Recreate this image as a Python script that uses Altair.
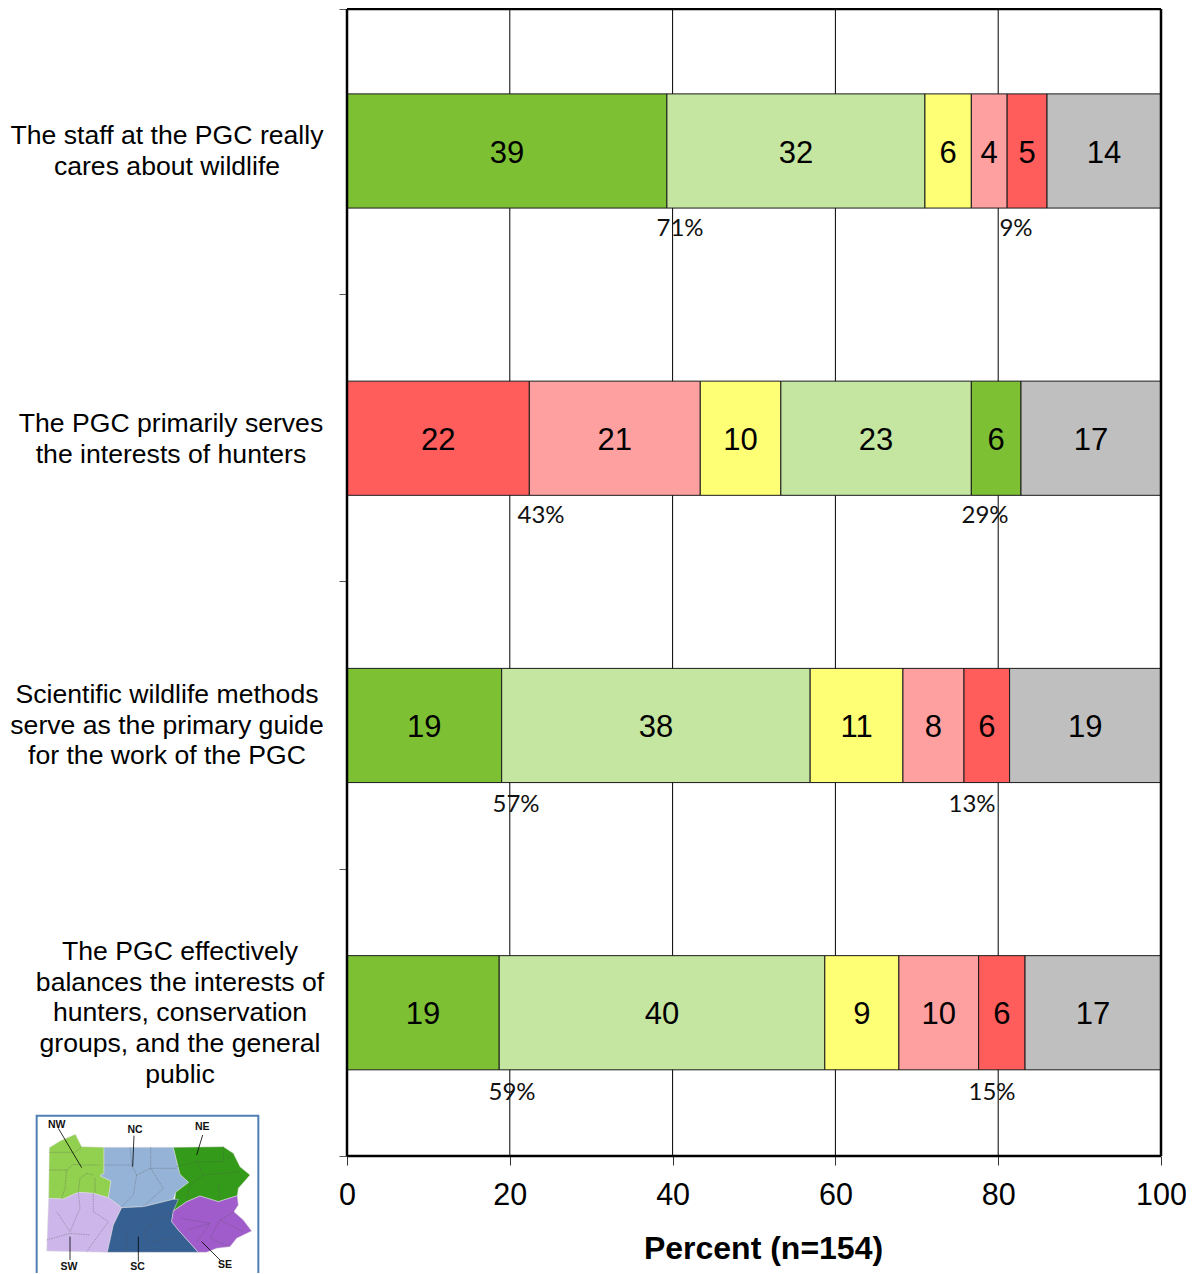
import altair as alt
import pandas as pd

# ---- chart values -------------------------------------------------------
questions = [
    "The staff at the PGC really\ncares about wildlife",
    "The PGC primarily serves\nthe interests of hunters",
    "Scientific wildlife methods\nserve as the primary guide\nfor the work of the PGC",
    "The PGC effectively\nbalances the interests of\nhunters, conservation\ngroups, and the general\npublic",
]
responses = ["dark green", "light green", "yellow", "pink", "red", "grey"]
colours = ["#7DC034", "#C5E6A1", "#FFFF75", "#FFA0A0", "#FF5C5C", "#BFBFBF"]

row_order = [
    ["dark green", "light green", "yellow", "pink", "red", "grey"],
    ["red", "pink", "yellow", "light green", "dark green", "grey"],
    ["dark green", "light green", "yellow", "pink", "red", "grey"],
    ["dark green", "light green", "yellow", "pink", "red", "grey"],
]
row_values = [
    [39.3, 31.7, 5.7, 4.4, 4.9, 14.0],
    [22.4, 21.0, 9.9, 23.4, 6.1, 17.2],
    [19.0, 37.9, 11.4, 7.5, 5.6, 18.6],
    [18.7, 40.0, 9.1, 9.8, 5.7, 16.7],
]
left_notes = ["71%", "43%", "57%", "59%"]
right_notes = ["9%", "29%", "13%", "15%"]

x_ticks = [0, 20, 40, 60, 80, 100]
y_ticks = [0.007, 1, 2, 3, 4]

# inset map, in the map's own units
map_regions = {
    "NW": [(58,128),(90,108),(136,88),(155,125),(222,127),(222,205),(210,212),(243,228),(235,278),(190,265),(145,262),(100,282),(56,280)],
    "NC": [(222,127),(430,127),(450,208),(476,232),(437,262),(430,283),(340,305),(275,308),(235,278),(243,228),(210,212),(222,205)],
    "NE": [(430,127),(580,125),(610,145),(630,185),(660,210),(625,250),(622,272),(565,290),(510,273),(470,290),(430,318),(437,262),(476,232),(450,208)],
    "SW": [(56,280),(100,282),(145,262),(190,265),(235,278),(275,308),(250,360),(232,442),(50,438)],
    "SC": [(275,308),(340,305),(430,283),(445,283),(430,318),(425,350),(445,375),(505,442),(232,442),(250,360)],
    "SE": [(510,273),(565,290),(622,272),(625,300),(612,320),(640,345),(665,378),(620,400),(600,425),(560,430),(530,442),(505,442),(445,375),(425,350),(430,318),(470,290)],
}
region_colours = {"NW": "#92D050", "NC": "#95B3D7", "NE": "#349A1A", "SW": "#CDB6EA", "SC": "#366092", "SE": "#A05CCB"}
county_lines = [
    [(58,142),(135,142),(155,125)], [(58,195),(110,195),(130,178),(165,180),(210,180)],
    [(110,195),(105,250),(95,280)], [(145,262),(150,220),(170,205),(190,210)], [(195,220),(195,265)],
    [(300,127),(305,180),(222,180)], [(362,127),(362,190),(440,190)], [(305,180),(320,210),(362,190)],
    [(320,210),(310,270),(275,305)], [(362,190),(400,250),(340,305)], [(500,170),(520,210),(480,240),(470,285)],
    [(440,185),(500,170),(580,170),(610,145)], [(520,210),(630,200)], [(565,240),(570,285)], [(580,125),(580,170)],
    [(145,262),(150,310),(120,380),(80,320)], [(190,265),(190,320),(235,350),(170,440)], [(50,405),(120,385),(180,390)],
    [(340,330),(290,380),(290,440)], [(400,310),(340,385),(370,440)], [(430,320),(350,370)], [(370,410),(440,395)],
    [(455,340),(540,355),(470,375)], [(540,355),(500,410)], [(570,345),(540,400),(600,425)], [(612,320),(570,345),(640,380)],
]
map_leaders = [
    [(85,70),(155,188)], [(312,92),(308,185)], [(518,90),(500,150)],
    [(120,465),(120,395)], [(325,470),(325,395)], [(570,465),(515,410)],
]
map_frame = [(20,504),(20,32),(685,32),(685,504)]
map_labels = ["NW", "NC", "NE", "SW", "SC", "SE"]
map_label_x = [80, 315, 517, 117, 323, 585]
map_label_y = [60, 74, 65, 485, 485, 480]

# ---- tables -------------------------------------------------------------
rows = []
for i, (order, vals) in enumerate(zip(row_order, row_values)):
    start = 0.0
    for resp, v in zip(order, vals):
        rows.append({"row": i, "top": i + 0.3025, "bottom": i + 0.7, "mid": i + 0.5,
                     "response": resp, "start": start, "end": start + v,
                     "centre": start + v / 2, "value": v})
        start += v
bars = pd.DataFrame(rows)

X = alt.Scale(domain=[0, 100], nice=False)
Y = alt.Scale(domain=[0.007, 4], reverse=True, nice=False)

# ---- grid, axes ---------------------------------------------------------
base = (
    alt.Chart(pd.DataFrame({"x": x_ticks[1:-1]}))
    .mark_rule(color="#000000", strokeWidth=1)
    .encode(
        x=alt.X("x:Q", scale=X, axis=alt.Axis(
            values=x_ticks, title="Percent (n=154)", grid=False, domain=False,
            tickColor="#333333", tickSize=9, tickWidth=1,
            labelFont="Liberation Sans", labelFontSize=30.5, labelColor="#000000", labelPadding=15,
            labelOverlap=False, labelFlush=False,
            titleFont="Liberation Sans", titleFontSize=32, titleFontWeight="bold",
            titleColor="#000000", titleX=416, titleY=77)),
        y=alt.datum(0.007, scale=Y, axis=alt.Axis(
            values=y_ticks, title=None, labels=False, grid=False, domain=False,
            tickColor="#555555", tickSize=8, tickWidth=1)),
        y2=alt.datum(4),
    )
)

stacked = (
    alt.Chart(bars)
    .mark_bar(stroke="#1a1a1a", strokeWidth=1)
    .encode(
        x=alt.X("start:Q", scale=X),
        x2="end:Q",
        y=alt.Y("top:Q", scale=Y),
        y2="bottom:Q",
        color=alt.Color("response:N", scale=alt.Scale(domain=responses, range=colours), legend=None),
    )
)

numbers = (
    alt.Chart(bars)
    .mark_text(font="Liberation Sans", fontSize=31, color="#000000", baseline="middle", dy=3)
    .encode(
        x=alt.X("centre:Q", scale=X),
        y=alt.Y("mid:Q", scale=Y),
        text=alt.Text("value:Q", format=".0f"),
    )
)

frame = alt.layer(
    alt.Chart(pd.DataFrame({"x": [0, 100]})).mark_rule(color="#000000", strokeWidth=2.5).encode(
        x=alt.X("x:Q", scale=X), y=alt.datum(0.007, scale=Y), y2=alt.datum(4)),
    alt.Chart(pd.DataFrame({"y": [0.007, 4]})).mark_rule(color="#000000", strokeWidth=2.5).encode(
        y=alt.Y("y:Q", scale=Y), x=alt.datum(0, scale=X), x2=alt.datum(100)),
)

# ---- question labels and net-percent notes ------------------------------
label_centres = [-180, -176, -180, -167]
label_first_line = [127, 415, 686, 943]
question_layers = [
    alt.Chart(pd.DataFrame({"t": [q]}))
    .mark_text(font="Liberation Sans", fontSize=26.6, color="#000000", align="center",
               baseline="middle", lineBreak="\n", lineHeight=30.7)
    .encode(x=alt.value(cx), y=alt.value(cy), text="t:N")
    for q, cx, cy in zip(questions, label_centres, label_first_line)
]

note_y = [220, 507, 796, 1084]
left_x = [333, 194, 169, 165]
right_x = [669, 638, 625, 645]
note_layers = []
for txt, lx, ny in zip(left_notes + right_notes, left_x + right_x, note_y + note_y):
    note_layers.append(
        alt.Chart(pd.DataFrame({"t": [txt]}))
        .mark_text(font="Lato", fontSize=24, color="#111111", align="center", baseline="middle")
        .encode(x=alt.value(lx), y=alt.value(ny), text="t:N")
    )

# ---- inset map ----------------------------------------------------------
def ring(pts):
    return [[x, y] for x, y in pts] + [[pts[0][0], pts[0][1]]]

def polygon_feature(pts, key):
    return {"type": "Feature", "properties": {"region": key},
            "geometry": {"type": "Polygon", "coordinates": [ring(pts)]}}

def line_feature(pts):
    return {"type": "Feature", "properties": {},
            "geometry": {"type": "LineString", "coordinates": [[x, y] for x, y in pts]}}

def collection(features):
    return alt.Data(values={"type": "FeatureCollection", "features": features},
                    format=alt.DataFormat(property="features", type="json"))

proj = dict(type="identity", scale=1 / 3, translate=[30 - 347, 1105 - 9])

regions = (
    alt.Chart(collection([polygon_feature(p, k) for k, p in map_regions.items()]))
    .mark_geoshape(strokeWidth=0.5, stroke="#dddddd", clip=False)
    .encode(color=alt.Color("properties.region:N",
                            scale=alt.Scale(domain=list(region_colours), range=list(region_colours.values())),
                            legend=None))
    .project(**proj)
)
counties = (
    alt.Chart(collection([line_feature(p) for p in county_lines]))
    .mark_geoshape(filled=False, stroke="#555555", strokeWidth=0.5, strokeDash=[1.5, 1], opacity=0.75, clip=False)
    .project(**proj)
)
leaders = (
    alt.Chart(collection([line_feature(p) for p in map_leaders]))
    .mark_geoshape(filled=False, stroke="#000000", strokeWidth=0.8, clip=False)
    .project(**proj)
)
outline = (
    alt.Chart(collection([line_feature(map_frame)]))
    .mark_geoshape(filled=False, stroke="#4F7FB5", strokeWidth=2, clip=False)
    .project(**proj)
)
region_names = (
    alt.Chart(pd.DataFrame({"name": map_labels, "lon": map_label_x, "lat": map_label_y}))
    .mark_text(font="Liberation Sans", fontSize=10.5, fontWeight="bold", color="#111111", clip=False)
    .encode(longitude="lon:Q", latitude="lat:Q", text="name:N")
    .project(**proj)
)

chart = (
    alt.layer(base, stacked, numbers, frame, *question_layers, *note_layers,
              outline, regions, counties, leaders, region_names)
    .resolve_scale(color="independent")
    .properties(width=814, height=1147,
                padding={"left": 339, "top": 1, "right": 25, "bottom": 118},
                autosize=alt.AutoSizeParams(type="none"))
    .configure_view(stroke=None)
)

chart.save("out.html", embed_options={"renderer": "svg", "actions": False})
